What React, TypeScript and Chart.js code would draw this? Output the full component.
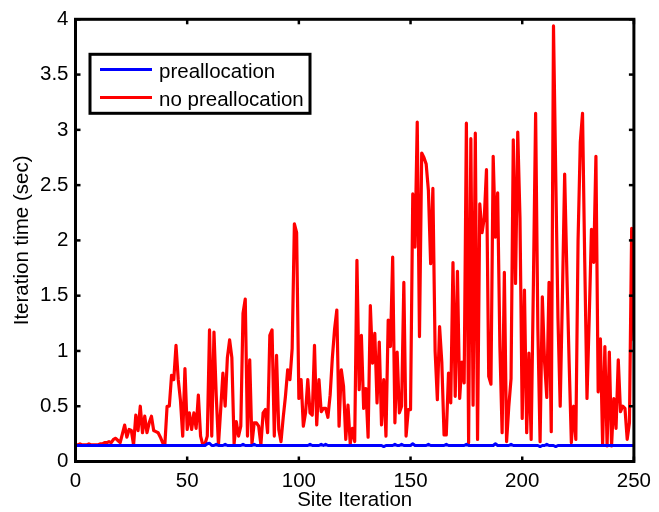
import React, { useEffect, useRef } from "react";
import { Chart, registerables } from "chart.js";

Chart.register(...registerables);

const FONT = "'Liberation Sans', Arial, Helvetica, sans-serif";

const seriesLabels = ["preallocation", "no preallocation"];
const seriesColors = ["#0000ff", "#ff0000"];

const xTicks = [0, 50, 100, 150, 200, 250];
const yTicks = [0, 0.5, 1, 1.5, 2, 2.5, 3, 3.5, 4];

// Site iteration index 0..250
const iterations = Array.from({ length: 251 }, (_, i) => i);

const preallocation = [
  0.145, 0.145, 0.145, 0.145, 0.145, 0.145, 0.145, 0.145, 0.145, 0.145,
  0.145, 0.145, 0.145, 0.145, 0.145, 0.145, 0.145, 0.145, 0.145, 0.145,
  0.145, 0.145, 0.145, 0.145, 0.145, 0.145, 0.145, 0.145, 0.145, 0.145,
  0.145, 0.145, 0.145, 0.145, 0.145, 0.145, 0.145, 0.145, 0.145, 0.145,
  0.145, 0.145, 0.145, 0.145, 0.145, 0.145, 0.145, 0.145, 0.145, 0.145,
  0.145, 0.145, 0.145, 0.145, 0.145, 0.145, 0.145, 0.145, 0.145, 0.16,
  0.165, 0.145, 0.145, 0.155, 0.145, 0.145, 0.145, 0.155, 0.145, 0.145,
  0.145, 0.145, 0.145, 0.145, 0.145, 0.155, 0.145, 0.145, 0.145, 0.145,
  0.155, 0.145, 0.145, 0.145, 0.145, 0.145, 0.145, 0.145, 0.145, 0.145,
  0.145, 0.145, 0.145, 0.145, 0.145, 0.145, 0.145, 0.145, 0.145, 0.145,
  0.145, 0.145, 0.145, 0.145, 0.145, 0.155, 0.145, 0.145, 0.145, 0.145,
  0.155, 0.145, 0.155, 0.145, 0.145, 0.145, 0.145, 0.145, 0.145, 0.145,
  0.145, 0.145, 0.145, 0.145, 0.145, 0.145, 0.145, 0.145, 0.145, 0.145,
  0.145, 0.145, 0.145, 0.145, 0.145, 0.145, 0.145, 0.145, 0.135, 0.145,
  0.145, 0.145, 0.145, 0.155, 0.145, 0.145, 0.155, 0.145, 0.145, 0.145,
  0.145, 0.16, 0.145, 0.145, 0.145, 0.145, 0.145, 0.145, 0.155, 0.145,
  0.145, 0.145, 0.145, 0.145, 0.145, 0.145, 0.155, 0.145, 0.145, 0.145,
  0.145, 0.145, 0.145, 0.145, 0.145, 0.155, 0.145, 0.145, 0.145, 0.145,
  0.145, 0.145, 0.145, 0.145, 0.145, 0.145, 0.145, 0.145, 0.16, 0.145,
  0.145, 0.145, 0.145, 0.145, 0.145, 0.155, 0.145, 0.145, 0.145, 0.145,
  0.145, 0.145, 0.145, 0.145, 0.145, 0.145, 0.145, 0.145, 0.135, 0.145,
  0.145, 0.155, 0.145, 0.145, 0.145, 0.135, 0.145, 0.145, 0.145, 0.145,
  0.145, 0.145, 0.145, 0.145, 0.145, 0.145, 0.145, 0.145, 0.145, 0.145,
  0.145, 0.145, 0.145, 0.145, 0.145, 0.145, 0.145, 0.145, 0.145, 0.145,
  0.145, 0.145, 0.145, 0.145, 0.145, 0.145, 0.145, 0.145, 0.145, 0.145,
  0.145,
];

const noPreallocation = [
  0.15, 0.15, 0.16, 0.15, 0.15, 0.15, 0.16, 0.15, 0.15, 0.15,
  0.15, 0.16, 0.16, 0.17, 0.17, 0.18, 0.17, 0.2, 0.21, 0.19,
  0.17, 0.25, 0.33, 0.22, 0.29, 0.28, 0.15, 0.42, 0.28, 0.5,
  0.26, 0.41, 0.26, 0.35, 0.41, 0.28, 0.27, 0.26, 0.22, 0.17,
  0.15, 0.5, 0.5, 0.78, 0.74, 1.05, 0.74, 0.55, 0.23, 0.84,
  0.29, 0.44, 0.29, 0.44, 0.3, 0.6, 0.23, 0.15, 0.16, 0.23,
  1.19, 0.23, 1.17, 0.6, 0.15, 0.47, 0.8, 0.5, 0.94, 1.1,
  0.94, 0.16, 0.36, 0.23, 0.32, 1.34, 1.47, 0.23, 0.92, 0.16,
  0.35, 0.35, 0.32, 0.15, 0.44, 0.47, 0.26, 1.14, 1.19, 0.23,
  0.96, 0.29, 0.18, 0.4, 0.59, 0.83, 0.74, 1.02, 2.15, 2.07,
  0.57, 0.74, 0.32, 0.44, 0.74, 0.44, 0.42, 1.05, 0.33, 0.74,
  0.45, 0.48, 0.48, 0.4, 0.6, 0.94, 1.2, 1.37, 0.32, 0.83,
  0.68, 0.2, 0.51, 0.16, 0.3, 0.18, 1.82, 0.65, 1.14, 0.48,
  0.66, 0.22, 1.41, 0.89, 1.16, 0.53, 1.08, 0.33, 0.74, 0.23,
  1.28, 1.04, 1.85, 0.35, 0.99, 0.44, 0.5, 1.62, 0.23, 0.47,
  0.47, 2.42, 1.94, 3.07, 1.13, 2.79, 2.75, 2.69, 2.45, 1.79,
  2.47, 1.0, 0.56, 1.22, 0.9, 0.24, 0.24, 0.8, 0.53, 1.8,
  0.59, 1.72, 0.57, 0.9, 0.71, 3.06, 0.17, 2.92, 0.51, 2.97,
  0.2, 2.33, 2.07, 2.2, 2.64, 0.77, 0.7, 2.76, 2.03, 2.43,
  1.04, 0.26, 1.71, 0.18, 0.5, 0.75, 2.91, 1.61, 2.98, 2.2,
  0.39, 1.55, 0.26, 0.98, 0.2, 1.6, 3.15, 1.2, 0.18, 1.49,
  0.9, 0.58, 1.62, 0.27, 3.94, 2.6, 1.3, 0.5, 1.5, 2.6,
  1.7, 0.9, 0.17, 0.5, 0.2, 2.0, 2.89, 3.15, 1.8, 0.57,
  1.3, 2.1, 1.8, 2.76, 0.63, 1.11, 0.15, 1.04, 0.14, 0.99,
  0.14, 0.57, 0.3, 0.92, 0.45, 0.5, 0.48, 0.2, 0.35, 2.11,
  1.1,
];

const matlabFrame = {
  id: "matlabFrame",
  afterDraw(chart: any) {
    const { ctx, chartArea: a, scales } = chart;
    const seg = (x1: number, y1: number, x2: number, y2: number) => {
      ctx.beginPath();
      ctx.moveTo(x1, y1);
      ctx.lineTo(x2, y2);
      ctx.stroke();
    };
    ctx.save();
    ctx.strokeStyle = "#000";
    ctx.lineWidth = 2.5;
    const tl = 5;
    for (const v of xTicks) {
      const px = scales.x.getPixelForValue(v);
      seg(px, a.bottom, px, a.bottom - tl);
      seg(px, a.top, px, a.top + tl);
    }
    for (const v of yTicks) {
      const py = scales.y.getPixelForValue(v);
      seg(a.left, py, a.left + tl, py);
      seg(a.right, py, a.right - tl, py);
    }
    ctx.lineWidth = 3;
    ctx.strokeRect(a.left, a.top, a.right - a.left, a.bottom - a.top);

    // legend box (MATLAB style, inside the axes)
    const lx = 90, ly = 54.3, lw = 220, lh = 59;
    ctx.fillStyle = "#fff";
    ctx.fillRect(lx, ly, lw, lh);
    ctx.lineWidth = 3;
    ctx.strokeRect(lx, ly, lw, lh);
    const rows = [69.5, 97.5];
    ctx.font = `20.5px ${FONT}`;
    ctx.textAlign = "left";
    ctx.textBaseline = "middle";
    chart.data.datasets.forEach((ds: any, i: number) => {
      ctx.strokeStyle = ds.borderColor;
      ctx.lineWidth = 3;
      seg(100, rows[i], 152, rows[i]);
      ctx.fillStyle = "#000";
      ctx.fillText(ds.label, 159, rows[i] + 2.5);
    });
    ctx.restore();
  },
};

export default function App() {
  const ref = useRef<HTMLCanvasElement | null>(null);

  useEffect(() => {
    if (!ref.current) return;
    Chart.defaults.font.family = FONT;
    Chart.defaults.color = "#000";
    const chart = new Chart(ref.current, {
      type: "line",
      data: {
        labels: iterations,
        datasets: [
          {
            label: seriesLabels[0],
            data: preallocation,
            borderColor: seriesColors[0],
            borderWidth: 3,
            borderJoinStyle: "round",
            borderCapStyle: "round",
            pointRadius: 0,
            tension: 0,
            fill: false,
          },
          {
            label: seriesLabels[1],
            data: noPreallocation,
            borderColor: seriesColors[1],
            borderWidth: 3.2,
            borderJoinStyle: "round",
            borderCapStyle: "round",
            pointRadius: 0,
            tension: 0,
            fill: false,
          },
        ],
      },
      options: {
        animation: false,
        responsive: false,
        events: [],
        layout: { padding: { top: 16.5, right: 21, left: 0, bottom: 0 } },
        plugins: {
          legend: { display: false },
          tooltip: { enabled: false },
        },
        scales: {
          x: {
            type: "linear",
            min: 0,
            max: 250,
            afterBuildTicks: (s: any) => {
              s.ticks = xTicks.map((v) => ({ value: v }));
            },
            afterFit: (s: any) => {
              s.height = 50.5;
            },
            grid: { display: false, drawTicks: false },
            border: { display: false },
            ticks: {
              padding: 8,
              maxRotation: 0,
              autoSkip: false,
              font: { size: 20.5 },
              color: "#000",
              callback: (v: any) => String(v),
            },
            title: {
              display: true,
              text: "Site Iteration",
              font: { size: 20.5 },
              color: "#000",
              padding: { top: 0, bottom: -1 },
            },
          },
          y: {
            type: "linear",
            min: 0,
            max: 4,
            afterBuildTicks: (s: any) => {
              s.ticks = yTicks.map((v) => ({ value: v }));
            },
            afterFit: (s: any) => {
              s.width = 75.5;
            },
            grid: { display: false, drawTicks: false },
            border: { display: false },
            ticks: {
              padding: 7,
              autoSkip: false,
              font: { size: 20.5 },
              color: "#000",
              callback: (v: any) => String(v),
            },
            title: {
              display: true,
              text: "Iteration time (sec)",
              font: { size: 20.5 },
              color: "#000",
              padding: { top: 10, bottom: 0 },
            },
          },
        },
      },
      plugins: [matlabFrame],
    });
    return () => chart.destroy();
  }, []);

  return (
    <div style={{ position: "absolute", left: 0, top: 0, width: 659, height: 512, background: "#fff" }}>
      <canvas ref={ref} width={659} height={512} style={{ width: 659, height: 512, display: "block" }} />
    </div>
  );
}
